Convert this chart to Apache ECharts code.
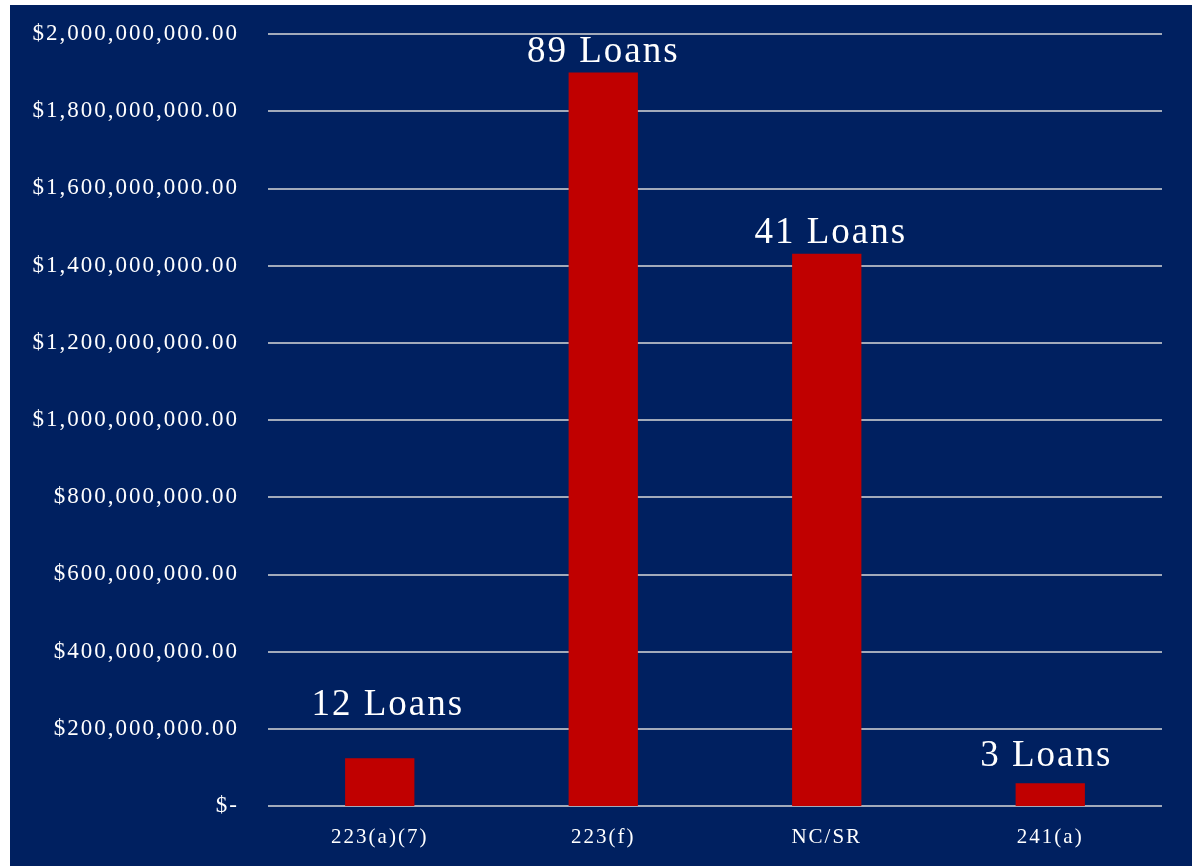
<!DOCTYPE html>
<html>
<head>
<meta charset="utf-8">
<script src="https://cdn.jsdelivr.net/npm/echarts@6/dist/echarts.min.js"></script>
<style>
html,body{margin:0;padding:0;background:#ffffff;}
#chart{position:absolute;left:10px;top:5px;width:1182px;height:861px;}
</style>
</head>
<body>
<div id="chart"></div>
<script>
const categories = ['223(a)(7)', '223(f)', 'NC/SR', '241(a)'];
const amounts = [124000000, 1900000000, 1431000000, 59000000];
const loanLabels = ['12 Loans', '89 Loans', '41 Loans', '3 Loans'];
const yTicks = { min: 0, max: 2000000000, interval: 200000000 };

// Emulate the letter-spaced text of the original (draw-time only)
(function () {
  const proto = CanvasRenderingContext2D.prototype;
  const orig = proto.fillText;
  proto.fillText = function () {
    try { if ('letterSpacing' in this) this.letterSpacing = '2px'; } catch (e) {}
    const r = orig.apply(this, arguments);
    try { if ('letterSpacing' in this) this.letterSpacing = '0px'; } catch (e) {}
    return r;
  };
})();

function fmtMoney(v) {
  if (v === 0) return '$-';
  return '$' + v.toLocaleString('en-US') + '.00';
}

const el = document.getElementById('chart');
const chart = echarts.init(el, null, { renderer: 'canvas' });
const font = '"Liberation Serif", "Times New Roman", serif';

const labelTweaks = [
  { distance: 34, offset: [8, 0] },
  { distance: 2, offset: [0, 0] },
  { distance: 2, offset: [4, 0] },
  { distance: 8, offset: [-4, 0] }
];

chart.setOption({
  animation: false,
  backgroundColor: '#002060',
  grid: { left: 258, right: 30, top: 29, bottom: 60 },
  xAxis: {
    type: 'category',
    data: categories,
    axisLine: { show: false },
    axisTick: { show: false },
    axisLabel: { color: '#ffffff', fontFamily: font, fontSize: 21, margin: 21 }
  },
  yAxis: {
    type: 'value',
    min: yTicks.min,
    max: yTicks.max,
    interval: yTicks.interval,
    axisLine: { show: false },
    axisTick: { show: false },
    splitLine: { lineStyle: { color: '#d9d9d9', width: 1.5 } },
    axisLabel: {
      color: '#ffffff', fontFamily: font, fontSize: 23, margin: 29,
      formatter: fmtMoney
    }
  },
  series: [{
    type: 'bar',
    data: amounts.map((v, i) => ({
      value: v,
      label: { distance: labelTweaks[i].distance, offset: labelTweaks[i].offset }
    })),
    barWidth: '31%',
    itemStyle: { color: '#c00000' },
    label: {
      show: true,
      position: 'top',
      color: '#ffffff',
      fontFamily: font,
      fontSize: 37,
      formatter: p => loanLabels[p.dataIndex]
    }
  }]
});
</script>
</body>
</html>
